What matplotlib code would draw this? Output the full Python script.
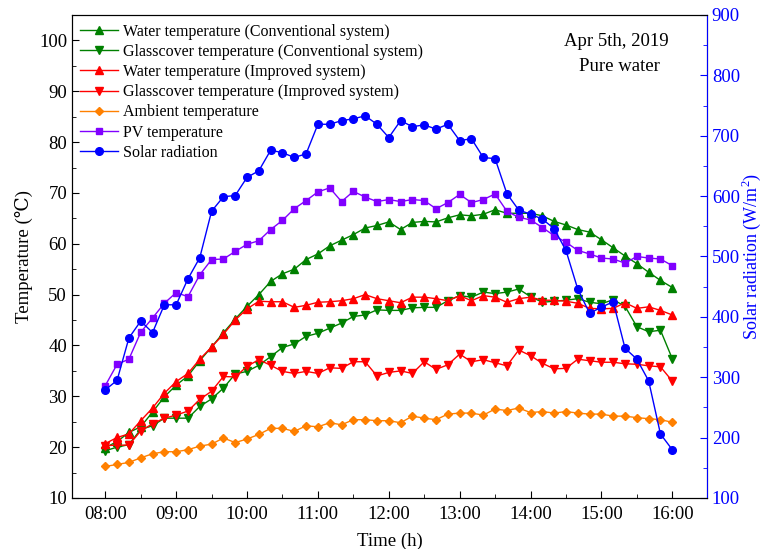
import numpy as np
import pandas as pd
import matplotlib
matplotlib.use('Agg')
import matplotlib.pyplot as plt

plt.rcParams['font.family'] = ['Liberation Serif', 'DejaVu Serif']
plt.rcParams['mathtext.fontset'] = 'custom'
plt.rcParams['mathtext.rm'] = 'Liberation Serif'

# sampling times, every 10 min from 08:00 to 16:00
times = pd.date_range('2019-04-05 08:00', '2019-04-05 16:00', freq='10min')
hours = times.hour + times.minute / 60.0

water_conv = [19.9, 21.1, 22.9, 24.0, 26.9, 29.9, 32.2, 34.0, 37.0, 39.7, 42.5, 45.2, 47.7,
              50.0, 52.6, 54.1, 55.0, 56.9, 58.0, 59.6, 60.7, 61.8, 63.1, 63.6, 64.3, 62.8,
              64.2, 64.4, 64.3, 65.1, 65.7, 65.5, 65.8, 66.7, 66.0, 66.0, 66.0, 65.5, 64.4,
              63.7, 62.8, 62.3, 60.8, 59.2, 57.6, 56.1, 54.4, 52.8, 51.4]
glass_conv = [19.3, 20.0, 20.5, 23.5, 24.2, 25.7, 25.7, 25.7, 28.0, 29.5, 31.6, 34.4, 34.9,
              36.1, 37.8, 39.6, 40.3, 41.8, 42.4, 43.4, 44.4, 45.7, 46.0, 47.0, 46.9, 46.9,
              47.4, 47.5, 47.5, 48.8, 49.8, 49.5, 50.5, 50.2, 50.5, 51.1, 49.6, 48.5, 48.7,
              48.9, 49.2, 48.5, 48.2, 49.0, 47.7, 43.7, 42.7, 43.0, 37.4]
water_imp = [20.7, 21.9, 22.6, 25.2, 27.7, 30.6, 32.9, 34.5, 37.3, 39.7, 42.2, 45.0, 47.2,
             48.7, 48.6, 48.6, 47.5, 47.9, 48.5, 48.6, 48.8, 49.2, 50.0, 49.2, 48.8, 48.4,
             49.5, 49.5, 49.2, 48.8, 49.8, 48.8, 49.8, 49.5, 48.5, 49.2, 49.5, 48.9, 48.9,
             48.7, 48.3, 47.3, 47.2, 47.3, 48.4, 47.3, 47.6, 46.9, 46.0]
glass_imp = [20.3, 20.4, 20.4, 23.2, 24.6, 25.7, 26.3, 27.1, 29.4, 31.0, 33.9, 33.8, 35.9,
             37.2, 36.1, 34.9, 34.5, 34.9, 34.5, 35.6, 35.5, 36.8, 36.8, 34.0, 34.7, 35.0,
             34.5, 36.8, 35.3, 36.2, 38.3, 36.8, 37.2, 36.6, 36.0, 39.1, 38.0, 36.5, 35.4,
             35.5, 37.3, 37.0, 36.7, 36.7, 36.4, 36.3, 36.0, 35.8, 33.0]
ambient = [16.2, 16.6, 17.0, 17.9, 18.7, 19.1, 19.1, 19.5, 20.2, 20.6, 21.8, 20.9, 21.6,
           22.5, 23.7, 23.7, 23.1, 24.2, 24.0, 24.8, 24.4, 25.4, 25.4, 25.2, 25.2, 24.8,
           26.1, 25.7, 25.4, 26.5, 26.7, 26.7, 26.3, 27.5, 27.2, 27.7, 26.8, 27.0, 26.7,
           27.0, 26.7, 26.5, 26.5, 26.1, 26.1, 25.8, 25.6, 25.4, 24.9]
pv_temp = [32.1, 36.3, 37.3, 42.6, 45.4, 48.3, 50.4, 49.6, 53.9, 56.9, 57.0, 58.5, 59.9,
           60.6, 62.8, 64.6, 66.9, 68.5, 70.2, 71.0, 68.3, 70.3, 69.2, 68.3, 68.7, 68.3,
           68.7, 68.5, 66.9, 68.1, 69.7, 68.1, 68.7, 69.8, 66.4, 65.2, 64.7, 63.2, 61.6,
           60.3, 58.7, 58.0, 57.2, 57.0, 56.2, 57.5, 57.2, 57.0, 55.7]
solar = [279, 295, 365, 393, 374, 420, 420, 463, 498, 575, 599, 601, 631,
         642, 676, 672, 664, 670, 719, 719, 725, 728, 733, 719, 697, 725,
         715, 718, 711, 719, 692, 695, 664, 662, 604, 577, 570, 562, 546,
         510, 446, 406, 416, 425, 348, 330, 294, 206, 180]

hour_ticks = [8, 9, 10, 11, 12, 13, 14, 15, 16]
hour_labels = ['08:00', '09:00', '10:00', '11:00', '12:00', '13:00', '14:00', '15:00', '16:00']

fig = plt.figure(figsize=(7.64, 5.49), dpi=100)
ax = fig.add_axes([0.0942, 0.0929, 0.8312, 0.8798])
ax2 = ax.twinx()

ms = 5.5
lw = 1.0
l1, = ax.plot(hours, water_conv, '-^', color='green', ms=ms, lw=lw, label='Water temperature (Conventional system)')
l2, = ax.plot(hours, glass_conv, '-v', color='green', ms=ms, lw=lw, label='Glasscover temperature (Conventional system)')
l3, = ax.plot(hours, water_imp, '-^', color='red', ms=ms, lw=lw, label='Water temperature (Improved system)')
l4, = ax.plot(hours, glass_imp, '-v', color='red', ms=ms, lw=lw, label='Glasscover temperature (Improved system)')
l5, = ax.plot(hours, ambient, '-D', color='#FF8000', ms=4.5, lw=lw, label='Ambient temperature')
l6, = ax.plot(hours, pv_temp, '-s', color='#8000FF', ms=5, lw=lw, label='PV temperature')
l7, = ax2.plot(hours, solar, '-o', color='#0000FF', ms=5.5, lw=lw, label='Solar radiation')

ax.set_xlim(7.53, 16.49)
ax.set_ylim(10, 105)
ax2.set_ylim(100, 900)

ax.set_xticks(hour_ticks)
ax.set_xticklabels(hour_labels)
ax.set_xticks(np.arange(8.5, 16.5, 1.0), minor=True)
ax.set_yticks(np.arange(10, 101, 10))
ax.set_yticks(np.arange(15, 105, 10), minor=True)
ax2.set_yticks(np.arange(100, 901, 100))
ax2.set_yticks(np.arange(150, 900, 100), minor=True)

ax.tick_params(which='both', direction='in', labelsize=13.5, top=False)
ax.tick_params(axis='x', pad=6)
ax.tick_params(which='major', length=5)
ax.tick_params(which='minor', length=3)
ax2.tick_params(which='both', direction='in', labelsize=13.5, colors='#0000FF')
ax2.tick_params(which='major', length=5)
ax2.tick_params(which='minor', length=3)
ax2.spines['right'].set_color('#0000FF')

ax.set_xlabel('Time (h)', fontsize=13.5, labelpad=7)
ax.set_ylabel('Temperature (\u2103)', fontsize=13.5, labelpad=4)
ax2.set_ylabel('Solar radiation (W/m$^2$)', fontsize=13, color='#0000FF', labelpad=0)

handles = [l1, l2, l3, l4, l5, l6, l7]
ax.legend(handles, [h.get_label() for h in handles], loc='upper left',
          bbox_to_anchor=(-0.005, 1.005), frameon=False, fontsize=11.5,
          handlelength=2.4, handletextpad=0.3, labelspacing=0.26, borderaxespad=0.3)

ax.text(0.857, 0.945, 'Apr 5th, 2019', transform=ax.transAxes, ha='center', va='center', fontsize=13.5)
ax.text(0.862, 0.893, 'Pure water', transform=ax.transAxes, ha='center', va='center', fontsize=13.5)

fig.savefig('out.png', dpi=100)
